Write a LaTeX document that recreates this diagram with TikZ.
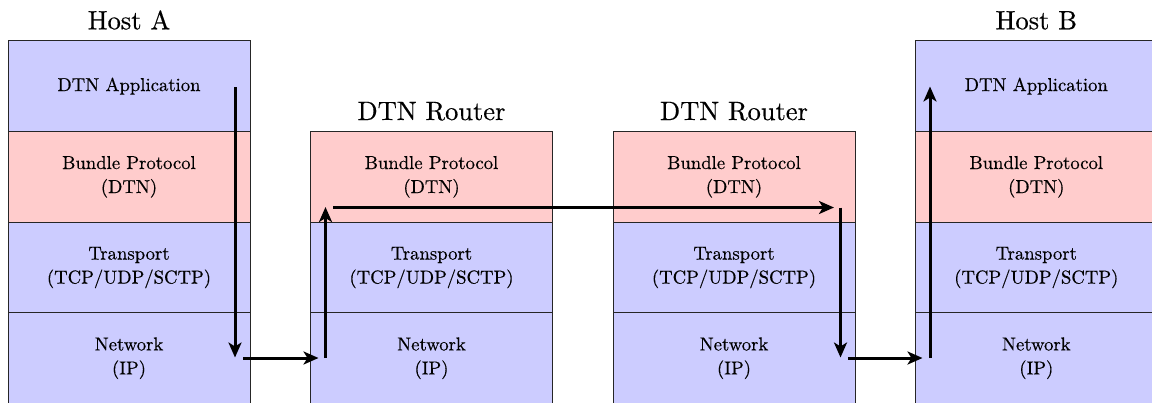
\documentclass[tikz,border=0pt]{standalone}
\usepackage{fontspec}
\IfFontExistsTF{lmroman10-regular.otf}{\newfontfamily\lmr{lmroman10-regular.otf}[FakeBold=0.4]}{\newcommand\lmr{\rmfamily}}
\usetikzlibrary{arrows.meta}
\definecolor{layblue}{RGB}{204,204,255}
\definecolor{laypink}{RGB}{255,204,204}
\begin{document}
\begin{tikzpicture}[x=1pt,y=-1pt,
  layer/.style={draw=black!85,line width=0.9pt,rectangle,minimum width=242pt,minimum height=90.7pt,inner sep=0pt,align=center,font=\lmr\fontsize{18.7}{24}\selectfont},
  bl/.style={layer,fill=layblue},
  pk/.style={layer,fill=laypink},
  ttl/.style={anchor=base,inner sep=0pt,font=\lmr\fontsize{26.5}{32}\selectfont},
  flow/.style={line width=3pt,-{Stealth[length=15pt,width=13pt,inset=4pt]}}]
\useasboundingbox (0,0) rectangle (1152,402);
\clip (0,0) rectangle (1152,402);
% Host A
\node[bl] (a1) at (129,86.15) {DTN Application};
\node[pk] (a2) at (129,176.85) {Bundle Protocol\\(DTN)};
\node[bl] (a3) at (129,267.55) {Transport\\(TCP/UDP/SCTP)};
\node[bl] (a4) at (129,358.25) {Network\\(IP)};
\node[ttl] (ta) at (129,29.3) {Host A};
% Router 1
\node[pk] (r2) at (431.5,176.85) {Bundle Protocol\\(DTN)};
\node[bl] (r3) at (431.5,267.55) {Transport\\(TCP/UDP/SCTP)};
\node[bl] (r4) at (431.5,358.25) {Network\\(IP)};
\node[ttl] (tr) at (431.5,120) {DTN Router};
% Router 2
\node[pk] (s2) at (734,176.85) {Bundle Protocol\\(DTN)};
\node[bl] (s3) at (734,267.55) {Transport\\(TCP/UDP/SCTP)};
\node[bl] (s4) at (734,358.25) {Network\\(IP)};
\node[ttl] (ts) at (734,120) {DTN Router};
% Host B
\node[bl] (b1) at (1036.3,86.15) {DTN Application};
\node[pk] (b2) at (1036.3,176.85) {Bundle Protocol\\(DTN)};
\node[bl] (b3) at (1036.3,267.55) {Transport\\(TCP/UDP/SCTP)};
\node[bl] (b4) at (1036.3,358.25) {Network\\(IP)};
\node[ttl] (tb) at (1036.3,29.3) {Host B};
% arrow end points
\coordinate (p1) at (235,87);
\coordinate (p2) at (235,357.5);
\coordinate (p3) at (243,358);
\coordinate (p4) at (318.5,358);
\coordinate (p5) at (325.5,358);
\coordinate (p6) at (325.5,207);
\coordinate (p7) at (333,207.5);
\coordinate (p8) at (834,207.5);
\coordinate (p9) at (840.5,207.5);
\coordinate (p10) at (840.5,357.5);
\coordinate (p11) at (848,358);
\coordinate (p12) at (922.5,358);
\coordinate (p13) at (930,358);
\coordinate (p14) at (930,86.5);
\draw[flow] (p1) -- (p2);
\draw[flow] (p3) -- (p4);
\draw[flow] (p5) -- (p6);
\draw[flow] (p7) -- (p8);
\draw[flow] (p9) -- (p10);
\draw[flow] (p11) -- (p12);
\draw[flow] (p13) -- (p14);
\end{tikzpicture}
\end{document}
